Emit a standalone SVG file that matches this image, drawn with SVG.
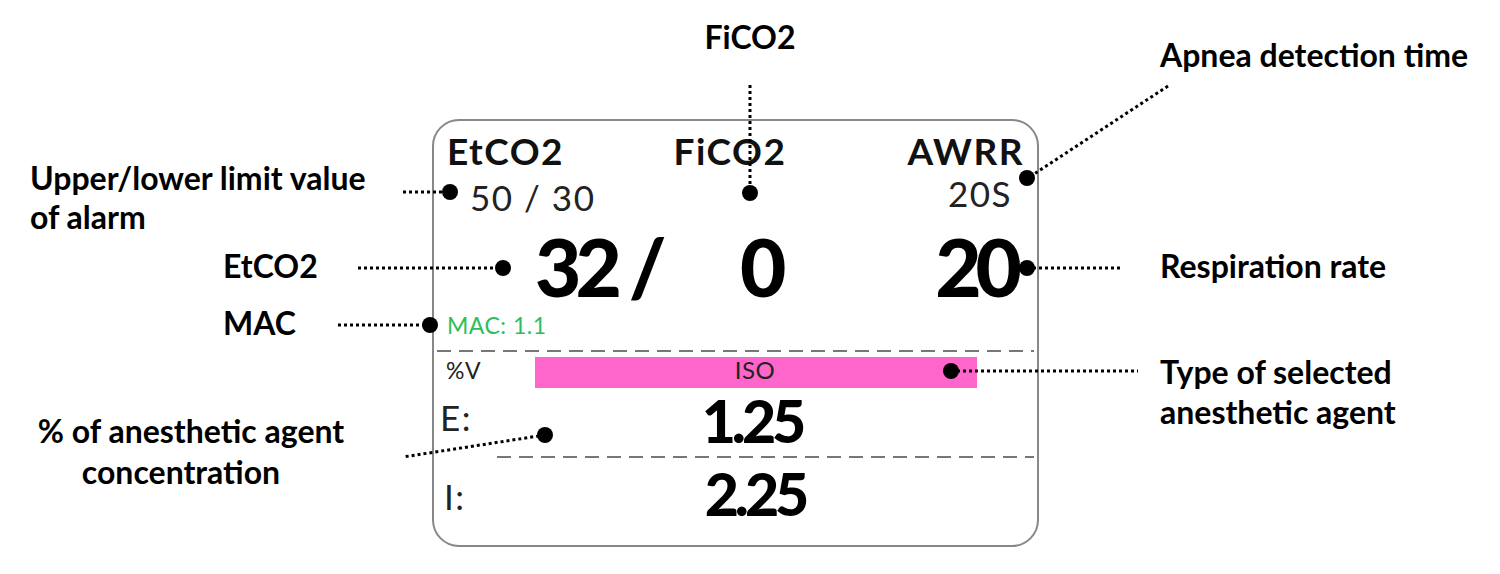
<svg xmlns="http://www.w3.org/2000/svg" width="1500" height="574" viewBox="0 0 1500 574">
<style>
.lbl{font-family:Lato,"Liberation Sans",sans-serif;font-weight:bold;font-size:32px;fill:#000}
.hd{font-family:Lato,"Liberation Sans",sans-serif;font-weight:bold;font-size:37px;fill:#111;letter-spacing:1.5px}
.sm{font-family:Lato,"Liberation Sans",sans-serif;font-size:35px;fill:#222;letter-spacing:1.5px}
.big{font-family:Lato,"Liberation Sans",sans-serif;font-weight:900;font-size:80px;fill:#000;letter-spacing:-6px}
.mid{font-family:Lato,"Liberation Sans",sans-serif;font-weight:900;font-size:59px;fill:#000;letter-spacing:-4px}
.tiny{font-family:Lato,"Liberation Sans",sans-serif;font-size:23px;fill:#222;letter-spacing:0.5px}
.con{stroke:#000;stroke-width:3;stroke-dasharray:3 3;fill:none}
.dash{stroke:#777;stroke-width:2;stroke-dasharray:14 8;fill:none}
</style>
<rect width="1500" height="574" fill="#fff"/>
<g id="monitor">
<rect x="433" y="120" width="605" height="426" rx="26" ry="26" fill="#fff" stroke="#888" stroke-width="2"/>
<text class="hd" x="447" y="165">EtCO2</text>
<text class="hd" x="730" y="165" text-anchor="middle">FiCO2</text>
<text class="hd" x="1024" y="165" text-anchor="end">AWRR</text>
<text class="sm" x="470" y="211">50 / 30</text>
<text class="sm" x="1012" y="207" text-anchor="end">20S</text>
<text class="big" x="535" y="297">32 /</text>
<text class="big" x="740" y="297">0</text>
<text class="big" x="1016" y="297" text-anchor="end">20</text>
<text class="tiny" x="447" y="334" style="fill:#2dbe5c">MAC: 1.1</text>
<line class="dash" x1="437" y1="351" x2="1034" y2="351"/>
<text class="tiny" x="446" y="379">%V</text>
<rect x="535" y="357" width="442" height="31" fill="#ff66cc"/>
<text class="tiny" x="755" y="379" text-anchor="middle" style="font-size:24px">ISO</text>
<text class="sm" x="440" y="431">E:</text>
<text class="mid" x="752" y="443" text-anchor="middle">1.25</text>
<line class="dash" x1="497" y1="457" x2="1034" y2="457"/>
<text class="sm" x="444" y="510">I:</text>
<text class="mid" x="755" y="516" text-anchor="middle">2.25</text>
</g>
<g id="labels">
<text class="lbl" x="750" y="49" text-anchor="middle">FiCO2</text>
<text class="lbl" x="1160" y="67">Apnea detection time</text>
<text class="lbl" x="30" y="190">Upper/lower limit value</text>
<text class="lbl" x="30" y="229">of alarm</text>
<text class="lbl" x="223" y="278">EtCO2</text>
<text class="lbl" x="223" y="335">MAC</text>
<text class="lbl" x="1160" y="278">Respiration rate</text>
<text class="lbl" x="1160" y="384">Type of selected</text>
<text class="lbl" x="1160" y="424">anesthetic agent</text>
<text class="lbl" x="191" y="443" text-anchor="middle">% of anesthetic agent</text>
<text class="lbl" x="181" y="484" text-anchor="middle">concentration</text>
</g>
<g id="connectors">
<line class="con" x1="750" y1="85" x2="750" y2="193"/>
<line class="con" x1="1168" y1="86" x2="1028" y2="178"/>
<line class="con" x1="403" y1="192" x2="450" y2="192"/>
<line class="con" x1="358" y1="268" x2="503" y2="268"/>
<line class="con" x1="338" y1="325" x2="430" y2="325"/>
<line class="con" x1="1027" y1="268" x2="1122" y2="268"/>
<line class="con" x1="951" y1="371" x2="1138" y2="371"/>
<line class="con" x1="545" y1="435" x2="403" y2="457"/>
<circle cx="750" cy="193" r="8"/>
<circle cx="1027" cy="178" r="8"/>
<circle cx="450" cy="192" r="8"/>
<circle cx="503" cy="268" r="8"/>
<circle cx="430" cy="325" r="8"/>
<circle cx="1027" cy="268" r="8"/>
<circle cx="951" cy="371" r="8"/>
<circle cx="545" cy="435" r="8"/>
</g>
</svg>
